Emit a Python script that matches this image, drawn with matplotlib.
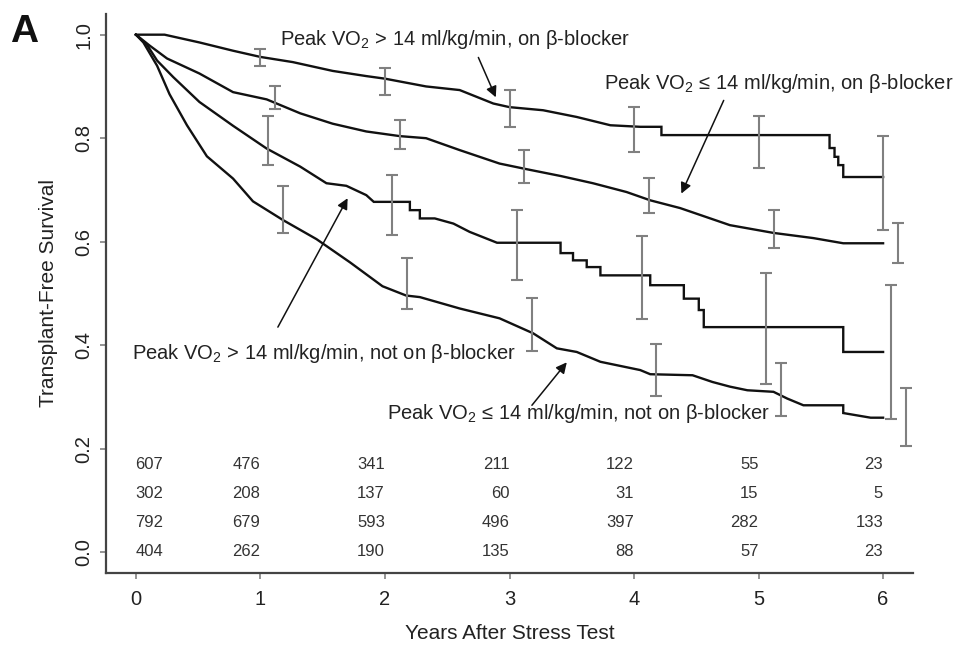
import matplotlib
matplotlib.use("Agg")

import matplotlib.pyplot as plt
import numpy as np

plt.rcParams["font.family"] = ["Liberation Sans", "DejaVu Sans"]
plt.rcParams["mathtext.fontset"] = "custom"
plt.rcParams["mathtext.rm"] = "Liberation Sans"
plt.rcParams["mathtext.it"] = "Liberation Sans:italic"
plt.rcParams["mathtext.bf"] = "Liberation Sans:bold"

# Kaplan-Meier curves (time in years, survival)
c1_t = [0, 0.23, 0.51, 0.78, 1.0, 1.26, 1.58, 1.85, 2.0, 2.33, 2.6, 2.87, 3.0,
        3.27, 3.54, 3.81, 4.05, 4.22, 4.22, 5.57, 5.57, 5.61, 5.61, 5.64, 5.64,
        5.68, 5.68, 6.0]
c1_s = [1.0, 1.0, 0.985, 0.969, 0.957, 0.947, 0.930, 0.920, 0.915, 0.900, 0.893,
        0.867, 0.860, 0.854, 0.841, 0.825, 0.822, 0.822, 0.806, 0.806, 0.781,
        0.781, 0.764, 0.764, 0.748, 0.748, 0.725, 0.725]

c2_t = [0, 0.11, 0.25, 0.51, 0.78, 1.05, 1.32, 1.58, 1.85, 2.12, 2.33, 2.6,
        2.92, 3.14, 3.41, 3.67, 3.94, 4.13, 4.37, 4.77, 5.12, 5.44, 5.68, 6.0]
c2_s = [1.0, 0.979, 0.954, 0.925, 0.889, 0.875, 0.848, 0.828, 0.813, 0.804,
        0.800, 0.777, 0.751, 0.740, 0.727, 0.713, 0.696, 0.680, 0.665, 0.632,
        0.617, 0.607, 0.597, 0.597]

c3_t = [0, 0.09, 0.17, 0.30, 0.51, 0.78, 1.05, 1.32, 1.53, 1.69, 1.85, 1.91,
        2.20, 2.20, 2.28, 2.28, 2.40, 2.55, 2.68, 2.90, 3.41, 3.41, 3.51, 3.51,
        3.62, 3.62, 3.73, 3.73, 4.13, 4.13, 4.40, 4.40, 4.52, 4.52, 4.56, 4.56,
        5.68, 5.68, 6.0]
c3_s = [1.0, 0.980, 0.950, 0.918, 0.870, 0.824, 0.780, 0.745, 0.713, 0.708,
        0.690, 0.677, 0.677, 0.661, 0.661, 0.645, 0.645, 0.635, 0.619, 0.598,
        0.598, 0.578, 0.578, 0.564, 0.564, 0.551, 0.551, 0.535, 0.535, 0.516,
        0.516, 0.490, 0.490, 0.468, 0.468, 0.435, 0.435, 0.387, 0.387]

c4_t = [0, 0.06, 0.17, 0.27, 0.41, 0.57, 0.78, 0.94, 1.18, 1.45, 1.72, 1.98,
        2.17, 2.28, 2.60, 2.92, 3.19, 3.38, 3.54, 3.73, 4.05, 4.13, 4.47, 4.63,
        4.77, 4.91, 5.12, 5.23, 5.36, 5.68, 5.68, 5.90, 6.0]
c4_s = [1.0, 0.985, 0.940, 0.885, 0.825, 0.765, 0.722, 0.678, 0.642, 0.605,
        0.560, 0.514, 0.496, 0.493, 0.471, 0.452, 0.423, 0.394, 0.387, 0.368,
        0.352, 0.344, 0.342, 0.329, 0.320, 0.313, 0.310, 0.297, 0.284, 0.284,
        0.269, 0.260, 0.260]

# confidence bars at each year (slightly shifted per group)
bar_years = [1, 2, 3, 4, 5, 6]
c1_lo = [0.939, 0.883, 0.822, 0.774, 0.742, 0.622]
c1_hi = [0.973, 0.935, 0.893, 0.860, 0.842, 0.804]
c2_lo = [0.856, 0.779, 0.714, 0.655, 0.587, 0.558]
c2_hi = [0.900, 0.835, 0.777, 0.723, 0.661, 0.636]
c3_lo = [0.748, 0.613, 0.527, 0.450, 0.325, 0.257]
c3_hi = [0.842, 0.728, 0.661, 0.611, 0.540, 0.516]
c4_lo = [0.617, 0.470, 0.389, 0.301, 0.263, 0.205]
c4_hi = [0.707, 0.568, 0.491, 0.402, 0.366, 0.317]

# numbers at risk
risk_years = [0, 1, 2, 3, 4, 5, 6]
risk_rows = [
    [607, 476, 341, 211, 122, 55, 23],
    [302, 208, 137, 60, 31, 15, 5],
    [792, 679, 593, 496, 397, 282, 133],
    [404, 262, 190, 135, 88, 57, 23],
]

labels = [
    r"Peak VO$_\mathregular{2}$ > 14 ml/kg/min, on β-blocker",
    r"Peak VO$_\mathregular{2}$ ≤ 14 ml/kg/min, on β-blocker",
    r"Peak VO$_\mathregular{2}$ > 14 ml/kg/min, not on β-blocker",
    r"Peak VO$_\mathregular{2}$ ≤ 14 ml/kg/min, not on β-blocker",
]

TXT = "#222222"
GRAY = "#808080"

fig = plt.figure(figsize=(9.56, 6.5), dpi=100)
ax = fig.add_axes([0.1109, 0.1185, 0.8441, 0.86])

curves = [(c1_t, c1_s), (c2_t, c2_s), (c3_t, c3_s), (c4_t, c4_s)]
for t, s in curves:
    ax.plot(t, s, color="#111111", lw=1.7, solid_joinstyle="miter")

bars = [(c1_lo, c1_hi, 0.0), (c2_lo, c2_hi, 0.12),
        (c3_lo, c3_hi, 0.06), (c4_lo, c4_hi, 0.18)]
for lo, hi, shift in bars:
    x = np.array(bar_years) + shift
    lo = np.array(lo)
    hi = np.array(hi)
    mid = (lo + hi) / 2
    ax.errorbar(x, mid, yerr=[mid - lo, hi - mid], fmt="none",
                ecolor=GRAY, elinewidth=1.5, capsize=4.5, capthick=1.5)

# numbers at risk table
row_y = [0.17, 0.114, 0.058, 0.002]
for row, y in zip(risk_rows, row_y):
    for yr, n in zip(risk_years, row):
        xpos = yr if yr > 0 else 0.22
        ax.text(xpos, y, str(n), ha="right", va="center", fontsize=12,
                color="#333333")

# curve labels with arrows
text_pos = [(1.16, 0.99), (3.76, 0.906), (-0.03, 0.384), (2.02, 0.269)]
arrows = [((2.75, 0.956), (2.89, 0.879)),
          ((4.72, 0.873), (4.38, 0.693)),
          ((1.14, 0.435), (1.70, 0.684)),
          ((3.18, 0.284), (3.46, 0.367))]
for lab, (tx, ty), (tail, head) in zip(labels, text_pos, arrows):
    ax.text(tx, ty, lab, ha="left", va="center", fontsize=14.5, color=TXT)
    ax.annotate("", xy=head, xytext=tail,
                arrowprops=dict(arrowstyle="-|>", color="#111111", lw=1.1,
                                mutation_scale=16, shrinkA=0, shrinkB=0))

ax.set_xlim(-0.24, 6.24)
ax.set_ylim(-0.04, 1.04)
ax.set_xticks(range(7))
ax.set_yticks([0.0, 0.2, 0.4, 0.6, 0.8, 1.0])
ax.set_yticklabels(["0.0", "0.2", "0.4", "0.6", "0.8", "1.0"], rotation=90,
                   va="center")
ax.tick_params(axis="both", length=4, width=1.2, color=GRAY, labelsize=14.5,
               labelcolor=TXT)
ax.tick_params(axis="x", pad=8)
ax.tick_params(axis="y", pad=5)

for side in ["top", "right"]:
    ax.spines[side].set_visible(False)
for side in ["left", "bottom"]:
    ax.spines[side].set_linewidth(1.6)
    ax.spines[side].set_color("#444444")

ax.set_xlabel("Years After Stress Test", fontsize=15, color=TXT, labelpad=11)
ax.set_ylabel("Transplant-Free Survival", fontsize=15, color=TXT, labelpad=12)

fig.text(0.01, 0.935, "A", fontsize=28, fontweight="bold", color="#111111")

fig.savefig("out.png", dpi=100)
